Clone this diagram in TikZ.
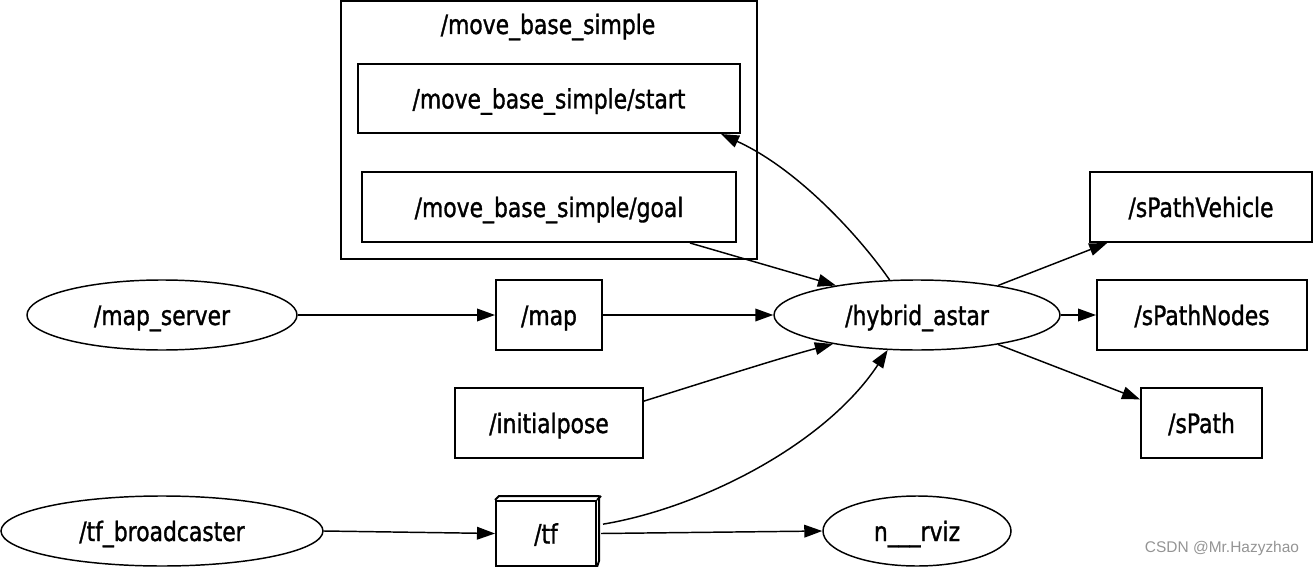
\documentclass[tikz,border=0pt]{standalone}
\usepackage{fontspec}
\setmainfont{DejaVu Sans}[FakeStretch=0.82,BoldFont={DejaVu Sans},BoldFeatures={FakeStretch=0.82,FakeBold=1.2}]
\newfontfamily\wmfont{Liberation Sans}
\usetikzlibrary{shapes.geometric,arrows.meta}
\begin{document}
\begin{tikzpicture}[x=0.75pt,y=-0.75pt,
  lbl/.style={font=\bfseries\fontsize{20}{24}\selectfont,text height=15pt,text depth=0pt},
  topic/.style={draw,line width=1.5pt,rectangle,inner sep=0pt,lbl},
  nodeell/.style={draw,line width=1.1pt,ellipse,inner sep=0pt,lbl},
  edge/.style={line width=1.1pt,-{Triangle[length=13.5pt,width=9.5pt]}},
]
\useasboundingbox (0,0) rectangle (1314,567);
% cluster
\draw[line width=1.5pt] (341,1) rectangle (757,259);
\node[lbl] (clbl) at (548,24) {/move\_base\_simple};
\node[topic,minimum width=382*0.75pt,minimum height=69*0.75pt] (start) at (549,98.5) {/move\_base\_simple/start};
\node[topic,minimum width=374*0.75pt,minimum height=70*0.75pt] (goal) at (549,207) {/move\_base\_simple/goal};
% nodes
\node[nodeell,minimum width=270*0.75pt,minimum height=70*0.75pt] (ms) at (162,315) {/map\_server};
\node[topic,minimum width=106*0.75pt,minimum height=70*0.75pt] (map) at (549,315) {/map};
\node[nodeell,minimum width=286*0.75pt,minimum height=70*0.75pt] (hyb) at (917,315) {/hybrid\_astar};
\node[topic,minimum width=188*0.75pt,minimum height=70*0.75pt] (ip) at (549,423) {/initialpose};
\node[nodeell,minimum width=322*0.75pt,minimum height=70*0.75pt] (tfb) at (162,531) {/tf\_broadcaster};
\node[topic,minimum width=100*0.75pt,minimum height=65*0.75pt] (tf) at (546,533.5) {/tf};
\draw[line width=1.5pt,line join=round] (tf.north west) -- ++(4,-4) -- ++(100,0) -- ++(0,65) -- (tf.south east);
\draw[line width=1.5pt] (tf.north east) -- ++(4,-4);
\node[nodeell,minimum width=188*0.75pt,minimum height=70*0.75pt] (rviz) at (917,531) {n\_\_\_rviz};
\node[topic,minimum width=222*0.75pt,minimum height=70*0.75pt] (spv) at (1201,207) {/sPathVehicle};
\node[topic,minimum width=210*0.75pt,minimum height=70*0.75pt] (spn) at (1202,315) {/sPathNodes};
\node[topic,minimum width=121*0.75pt,minimum height=70*0.75pt] (sp) at (1201.5,423) {/sPath};
% edges
\draw[edge] (ms.east) -- (map.west);
\draw[edge] (map.east) -- (hyb.west);
\draw[edge] ([xshift=141*0.75pt]goal.south) -- (hyb.160);
\draw[edge] (hyb.128) .. controls (862,240) and (800,170) .. ([xshift=172*0.75pt]start.south);
\draw[edge] (ip.13.7) .. controls (705,382) and (780,358) .. (hyb.-161);
\draw[edge] ([xshift=4.5pt,yshift=7pt]tf.east) .. controls (700,508) and (825,445) .. (hyb.-130);
\draw[edge] (tfb.east) -- (tf.west);
\draw[edge] ([xshift=3pt]tf.east) -- (rviz.west);
\draw[edge] (hyb.20.6) -- (spv.-159.6);
\draw[edge] (hyb.east) -- (spn.west);
\draw[edge] (hyb.-20.6) -- (sp.159.2);
% watermark
\node[font=\wmfont\fontsize{11.6}{14}\selectfont,text=black!42] (wm) at (1222,548) {CSDN @Mr.Hazyzhao};
\end{tikzpicture}
\end{document}
